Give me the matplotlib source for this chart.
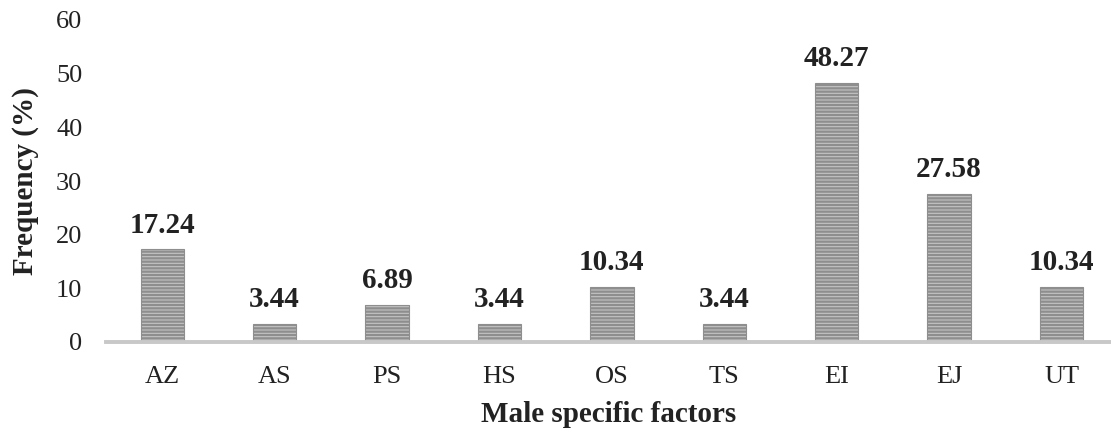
import numpy as np
import matplotlib
matplotlib.use('Agg')
import matplotlib.pyplot as plt

categories = ['AZ', 'AS', 'PS', 'HS', 'OS', 'TS', 'EI', 'EJ', 'UT']
values = [17.24, 3.44, 6.89, 3.44, 10.34, 3.44, 48.27, 27.58, 10.34]
yticks = [0, 10, 20, 30, 40, 50, 60]

plt.rcParams['font.family'] = ['Liberation Serif', 'DejaVu Serif']
plt.rcParams['hatch.linewidth'] = 1.6
plt.rcParams['hatch.color'] = '#525252'

fig = plt.figure(figsize=(11.11, 4.32), dpi=100)
ax = fig.add_axes([106 / 1111, 1 - 342 / 432, 1 - 106 / 1111, 322 / 432])

x = np.arange(len(categories))
ax.bar(x, values, width=0.385, color='#c4c4c4', edgecolor='#8e8e8e',
       linewidth=0.8, hatch='-----', zorder=2)

# value labels above bars
for xi, v in zip(x, values):
    ax.annotate(f'{v:.2f}', (xi, v), xytext=(0, 12), textcoords='offset points',
                ha='center', va='baseline', fontsize=21, fontweight='bold',
                color='#222222')

ax.set_xlim(-0.5, 8.44)
ax.set_ylim(0, 60)
ax.set_yticks(yticks)
ax.set_xticks(x)
ax.set_xticklabels(categories)
ax.tick_params(axis='both', length=0, labelsize=19, colors='#222222')
ax.tick_params(axis='y', pad=17)
ax.tick_params(axis='x', pad=17)

for s in ['left', 'right', 'top']:
    ax.spines[s].set_visible(False)
ax.spines['bottom'].set_color('#c8c8c8')
ax.spines['bottom'].set_linewidth(2.8)
ax.spines['bottom'].set_zorder(3)

ax.set_xlabel('Male specific factors', fontsize=21, fontweight='bold',
              color='#222222', labelpad=10)
ax.set_ylabel('Frequency (%)', fontsize=21, fontweight='bold',
              color='#222222', labelpad=12)

fig.savefig('out.png', dpi=100)
